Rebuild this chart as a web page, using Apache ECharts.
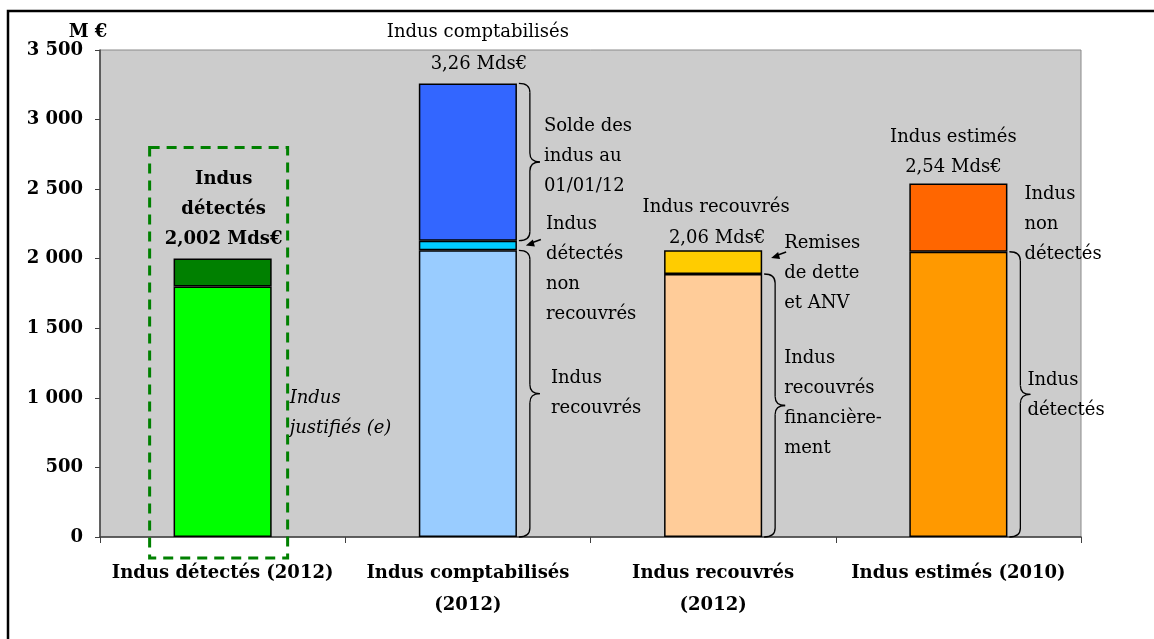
<!DOCTYPE html>
<html>
<head>
<meta charset="utf-8">
<script src="https://cdn.jsdelivr.net/npm/echarts@6/dist/echarts.min.js"></script>
<style>
  html, body { margin: 0; padding: 0; background: #fff; }
  #main { width: 1154px; height: 639px; }
</style>
</head>
<body>
<div id="main"></div>
<script>
// categories and stacked values (M€)
var categories = ['Indus détectés (2012)', 'Indus comptabilisés\n(2012)', 'Indus recouvrés\n(2012)', 'Indus estimés (2010)'];
var baseValues = [1800, 2060, 1890, 2050];
var midValues = [202, 70, 170, 490];
var topValues = ['-', 1130, '-', '-'];
var baseColors = ['#00FF00', '#99CCFF', '#FFCC99', '#FF9900'];
var midColors = ['#008000', '#00CCFF', '#FFCC00', '#FF6600'];
var topColor = '#3366FF';
var yTicks = [0, 500, 1000, 1500, 2000, 2500, 3000, 3500];

var FONT = 'DejaVu Serif';

function colored(values, colors) {
    return values.map(function (v, i) {
        return { value: v, itemStyle: { color: colors[i] } };
    });
}

var chart = echarts.init(document.getElementById('main'));

var barStyle = { borderColor: '#000', borderWidth: 1.5 };

chart.setOption({
    animation: false,
    backgroundColor: '#fff',
    grid: {
        left: 100, top: 50, right: 73, bottom: 102,
        show: true, backgroundColor: '#CCCCCC', borderColor: '#8a8a8a', borderWidth: 1
    },
    xAxis: {
        type: 'category',
        data: categories,
        axisLine: { lineStyle: { color: '#404040', width: 1.5 } },
        axisTick: { show: true, length: 6, lineStyle: { color: '#404040' } },
        axisLabel: {
            color: '#000', fontFamily: FONT, fontWeight: 'bold', fontSize: 18,
            lineHeight: 32, margin: 20, interval: 0
        }
    },
    yAxis: {
        type: 'value',
        min: yTicks[0], max: yTicks[yTicks.length - 1], interval: 500,
        name: 'M €',
        nameLocation: 'end',
        nameGap: 8,
        nameTextStyle: { color: '#000', fontFamily: FONT, fontWeight: 'bold', fontSize: 18, padding: [0, 24, 0, 0] },
        splitLine: { show: false },
        axisLine: { show: true, lineStyle: { color: '#404040', width: 1.5 } },
        axisTick: { show: true, length: 5, lineStyle: { color: '#404040' } },
        axisLabel: {
            color: '#000', fontFamily: FONT, fontWeight: 'bold', fontSize: 18, margin: 17,
            formatter: function (v) {
                return v >= 1000 ? Math.floor(v / 1000) + ' ' + String(v % 1000).padStart(3, '0') : String(v);
            }
        }
    },
    series: [
        { name: 'base', type: 'bar', stack: 't', barWidth: '40%', itemStyle: barStyle, data: colored(baseValues, baseColors) },
        { name: 'mid', type: 'bar', stack: 't', itemStyle: barStyle, data: colored(midValues, midColors) },
        { name: 'top', type: 'bar', stack: 't', itemStyle: { color: topColor, borderColor: '#000', borderWidth: 1.5 }, data: topValues }
    ]
});

// ---- annotations, anchored on the axes ----
function px(cat, val) {
    return chart.convertToPixel({ gridIndex: 0 }, [cat, val]);
}
var barHalf = 49;

// [text, cat, value, dx, dy, align, style]
var notes = [
    ['Indus comptabilisés', 1, 3260, 10, -51, 'center', 'normal'],
    ['3,26 Mds€', 1, 3260, 11, -19, 'center', 'normal'],
    ['Solde des\nindus au\n01/01/12', 1, 3260, 76, 43, 'left', 'normal'],
    ['Indus\ndétectés\nnon\nrecouvrés', 1, 2130, 78, -16, 'left', 'normal'],
    ['Indus\nrecouvrés', 1, 1030, 83, -15, 'left', 'normal'],
    ['Indus recouvrés', 2, 2060, 3, -43, 'center', 'normal'],
    ['2,06 Mds€', 2, 2060, 4, -12, 'center', 'normal'],
    ['Remises\nde dette\net ANV', 2, 2060, 71, -7, 'left', 'normal'],
    ['Indus\nrecouvrés\nfinancière-\nment', 2, 945, 71, -47, 'left', 'normal'],
    ['Indus estimés', 3, 2540, -5, -46, 'center', 'normal'],
    ['2,54 Mds€', 3, 2540, -5, -16, 'center', 'normal'],
    ['Indus\nnon\ndétectés', 3, 2540, 66, 11, 'left', 'normal'],
    ['Indus\ndétectés', 3, 1025, 69, -14, 'left', 'normal'],
    ['Indus\ndétectés\n2,002 Mds€', 0, 2002, 1, -79, 'center', 'bold'],
    ['Indus\njustifiés (e)', 0, 900, 67, -13, 'left', 'italic']
];

// braces: [cat, fromValue, toValue]
var braces = [
    [1, 3260, 2130],
    [1, 2060, 0],
    [2, 1890, 0],
    [3, 2050, 0]
];

// arrows: [cat, value pointed at]
var arrows = [
    [1, 2095],
    [2, 2005]
];

var graphics = [];
var braceStyle = { fill: 'none', stroke: '#000', lineWidth: 1.3 };

function pushBrace(x0, y1, y2) {
    var s = x0 + 11, t = x0 + 21, m = (y1 + y2) / 2, r = 9;
    graphics.push({ type: 'bezierCurve', z: 50, shape: { x1: x0, y1: y1, cpx1: s, cpy1: y1, x2: s, y2: y1 + r }, style: braceStyle });
    graphics.push({ type: 'line', z: 50, shape: { x1: s, y1: y1 + r, x2: s, y2: m - r }, style: braceStyle });
    graphics.push({ type: 'bezierCurve', z: 50, shape: { x1: s, y1: m - r, cpx1: s, cpy1: m, x2: t, y2: m }, style: braceStyle });
    graphics.push({ type: 'bezierCurve', z: 50, shape: { x1: t, y1: m, cpx1: s, cpy1: m, x2: s, y2: m + r }, style: braceStyle });
    graphics.push({ type: 'line', z: 50, shape: { x1: s, y1: m + r, x2: s, y2: y2 - r }, style: braceStyle });
    graphics.push({ type: 'bezierCurve', z: 50, shape: { x1: s, y1: y2 - r, cpx1: s, cpy1: y2, x2: x0, y2: y2 }, style: braceStyle });
}

// outer frame
graphics.push({
    type: 'rect', silent: true, z: 100,
    shape: { x: 8, y: 11, width: 1200, height: 700 },
    style: { fill: 'none', stroke: '#000', lineWidth: 2.5 }
});

notes.forEach(function (n) {
    var p = px(n[1], n[2]);
    var x = p[0] + n[3], y = p[1] + n[4] - 15;
    graphics.push({
        type: 'text', z: 50, x: x, y: y,
        style: {
            text: n[0], fill: '#000',
            font: (n[6] === 'italic' ? 'italic ' : '') + (n[6] === 'bold' ? 'bold ' : '') + '18px "' + FONT + '"',
            lineHeight: 30, align: n[5], verticalAlign: 'top'
        }
    });
});

braces.forEach(function (b) {
    var a = px(b[0], b[1]), c = px(b[0], b[2]);
    pushBrace(a[0] + barHalf + 2, a[1], c[1]);
});

arrows.forEach(function (a) {
    var p = px(a[0], a[1]);
    var tx = p[0] + barHalf + 9, ty = p[1];
    graphics.push({
        type: 'line', z: 50,
        shape: { x1: tx + 4, y1: ty - 2, x2: tx + 15, y2: ty - 6 },
        style: { stroke: '#000', lineWidth: 1.5 }
    });
    graphics.push({
        type: 'polygon', z: 50,
        shape: { points: [[tx, ty], [tx + 7, ty - 6], [tx + 9, ty + 1]] },
        style: { fill: '#000' }
    });
});

// dashed box around the first bar
var boxTop = px(0, 2800), boxBottom = px(0, 0);
graphics.push({
    type: 'rect', z: 60,
    shape: { x: boxTop[0] - 73, y: boxTop[1], width: 138, height: boxBottom[1] + 21 - boxTop[1] },
    style: { fill: 'none', stroke: '#008000', lineWidth: 3, lineDash: [10, 7] }
});

chart.setOption({ graphic: graphics });
</script>
</body>
</html>
